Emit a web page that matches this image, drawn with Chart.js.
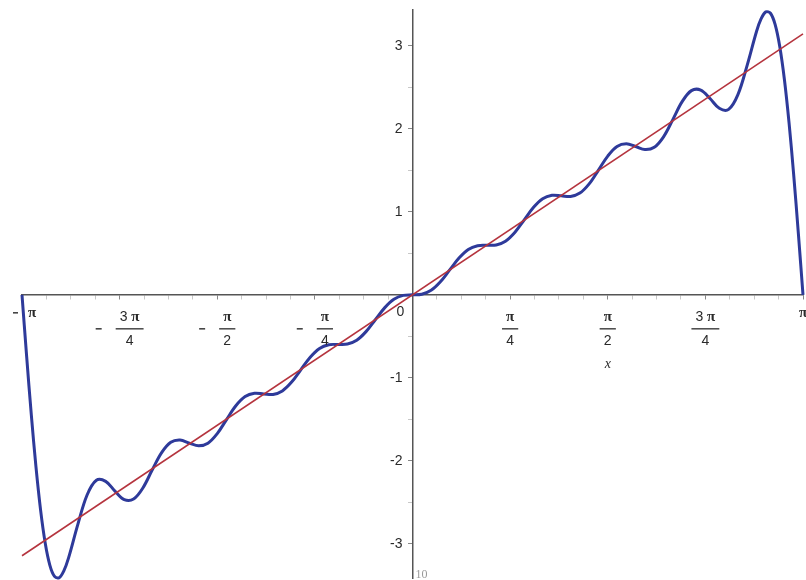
<!DOCTYPE html>
<html>
<head>
<meta charset="utf-8">
<script src="https://cdn.jsdelivr.net/npm/chart.js@4.4.1/dist/chart.umd.min.js"></script>
<style>
  html, body { margin: 0; padding: 0; background: #fff; }
  #plot { display: block; }
</style>
</head>
<body>
<canvas id="plot" width="806" height="580"></canvas>
<script>
// Fourier partial sum (10 terms) of f(x) = x
var xValues = [
  -3.1416, -3.1042, -3.0668, -3.0294, -2.9920, -2.9546, -2.9172, -2.8798, -2.8424, -2.8050,
  -2.7676, -2.6928, -2.6180, -2.5432, -2.4684, -2.3936, -2.3188, -2.2440, -2.1692, -2.0944,
  -2.0196, -1.9448, -1.8700, -1.7952, -1.7204, -1.6456, -1.5708, -1.4960, -1.4212, -1.3464,
  -1.2716, -1.1968, -1.1220, -1.0472, -0.9724, -0.8976, -0.8228, -0.7480, -0.6732, -0.5984,
  -0.5236, -0.4488, -0.3740, -0.2992, -0.2244, -0.1496, -0.0748,
  0,
  0.0748, 0.1496, 0.2244, 0.2992, 0.3740, 0.4488, 0.5236, 0.5984, 0.6732, 0.7480,
  0.8228, 0.8976, 0.9724, 1.0472, 1.1220, 1.1968, 1.2716, 1.3464, 1.4212, 1.4960,
  1.5708, 1.6456, 1.7204, 1.7952, 1.8700, 1.9448, 2.0196, 2.0944, 2.1692, 2.2440,
  2.3188, 2.3936, 2.4684, 2.5432, 2.6180, 2.6928, 2.7676, 2.8050, 2.8424, 2.8798,
  2.9172, 2.9546, 2.9920, 3.0294, 3.0668, 3.1042, 3.1416
];
var partialSum = [
  0, -0.741, -1.443, -2.070, -2.593, -2.991, -3.257, -3.391, -3.407, -3.325,
  -3.171, -2.767, -2.411, -2.233, -2.246, -2.364, -2.466, -2.459, -2.326, -2.110,
  -1.903, -1.776, -1.749, -1.786, -1.818, -1.786, -1.671, -1.502, -1.336, -1.225,
  -1.185, -1.193, -1.199, -1.157, -1.051, -0.900, -0.751, -0.646, -0.601, -0.597,
  -0.592, -0.547, -0.443, -0.300, -0.157, -0.054, -0.007,
  0,
  0.007, 0.054, 0.157, 0.300, 0.443, 0.547, 0.592, 0.597, 0.601, 0.646,
  0.751, 0.900, 1.051, 1.157, 1.199, 1.193, 1.185, 1.225, 1.336, 1.502,
  1.671, 1.786, 1.818, 1.786, 1.749, 1.776, 1.903, 2.110, 2.326, 2.459,
  2.466, 2.364, 2.246, 2.233, 2.411, 2.767, 3.171, 3.325, 3.407, 3.391,
  3.257, 2.991, 2.593, 2.070, 1.443, 0.741, 0
];

// the function itself, y = x
var lineX = [-Math.PI, Math.PI];
var lineY = [-Math.PI, Math.PI];

// axis ticks
var xTickValues = [-Math.PI, -3 * Math.PI / 4, -Math.PI / 2, -Math.PI / 4, 0,
                   Math.PI / 4, Math.PI / 2, 3 * Math.PI / 4, Math.PI];
var xTickSign = ['-', '-', '-', '-', '', '', '', '', ''];
var xTickNum  = ['π', '3 π', 'π', 'π', '0', 'π', 'π', '3 π', 'π'];
var xTickDen  = ['', '4', '2', '4', '', '4', '2', '4', ''];
var xMinorStep = Math.PI / 16;
var yTickValues = [-3, -2, -1, 1, 2, 3];
var yMinorStep = 0.5;
var xTitle = 'x';
var termCount = '10';

var sumPoints = xValues.map(function(v, i) { return {x: v, y: partialSum[i]}; });
var linePoints = lineX.map(function(v, i) { return {x: v, y: lineY[i]}; });

var SANS = "'Liberation Sans', Arial, sans-serif";
var SERIF = "'Liberation Serif', 'Times New Roman', serif";

// draw a string where π uses a serif face, digits a sans face
function charFont(c) {
    return c === 'π' ? 'bold 15px ' + SERIF : '14px ' + SANS;
}
function mixedWidth(ctx, str) {
    var w = 0;
    for (var i = 0; i < str.length; i++) {
        ctx.font = charFont(str[i]);
        w += ctx.measureText(str[i]).width;
    }
    return w;
}
function drawMixed(ctx, str, cx, cy) {
    var x = cx - mixedWidth(ctx, str) / 2;
    ctx.textAlign = 'left';
    ctx.textBaseline = 'middle';
    for (var i = 0; i < str.length; i++) {
        ctx.font = charFont(str[i]);
        ctx.fillText(str[i], x, cy);
        x += ctx.measureText(str[i]).width;
    }
}

var axisLabels = {
    id: 'axisLabels',
    afterDraw: function(chart) {
        var ctx = chart.ctx;
        var xs = chart.scales.x, ys = chart.scales.y;
        var x0 = xs.getPixelForValue(0);
        var y0 = ys.getPixelForValue(0);
        ctx.save();
        ctx.fillStyle = '#2a2a2a';
        ctx.strokeStyle = '#2a2a2a';

        // x tick labels
        for (var i = 0; i < xTickValues.length; i++) {
            var px = xs.getPixelForValue(xTickValues[i]);
            if (!xTickDen[i]) {
                if (xTickNum[i] === '0') {
                    drawMixed(ctx, '0', px - 12, y0 + 17);
                } else {
                    if (xTickSign[i]) {
                        ctx.lineWidth = 1.4;
                        ctx.beginPath();
                        ctx.moveTo(px - 9, y0 + 18);
                        ctx.lineTo(px - 4, y0 + 18);
                        ctx.stroke();
                        drawMixed(ctx, xTickNum[i], px + 10, y0 + 18);
                    } else {
                        drawMixed(ctx, xTickNum[i], px, y0 + 18);
                    }
                }
                continue;
            }
            var numW = mixedWidth(ctx, xTickNum[i]);
            var barW = numW + 8;
            var signW = xTickSign[i] ? 20 : 0;
            var left = px - (barW + signW) / 2;
            if (xTickSign[i]) {
                ctx.lineWidth = 1.4;
                ctx.beginPath();
                ctx.moveTo(left, y0 + 34);
                ctx.lineTo(left + 6, y0 + 34);
                ctx.stroke();
            }
            var fx = left + signW + barW / 2;
            drawMixed(ctx, xTickNum[i], fx, y0 + 22);
            ctx.lineWidth = 1.3;
            ctx.beginPath();
            ctx.moveTo(fx - barW / 2, y0 + 34);
            ctx.lineTo(fx + barW / 2, y0 + 34);
            ctx.stroke();
            drawMixed(ctx, xTickDen[i], fx, y0 + 46);
        }

        // y tick labels
        ctx.font = '14px ' + SANS;
        ctx.textAlign = 'right';
        ctx.textBaseline = 'middle';
        for (var j = 0; j < yTickValues.length; j++) {
            ctx.fillText(String(yTickValues[j]), x0 - 10, ys.getPixelForValue(yTickValues[j]));
        }

        // axis title
        ctx.font = 'italic 14px ' + SERIF;
        ctx.textAlign = 'center';
        ctx.fillText(xTitle, (x0 + chart.chartArea.right) / 2, y0 + 69);

        // number of terms
        ctx.fillStyle = '#999';
        ctx.font = '12px ' + SERIF;
        ctx.textAlign = 'left';
        ctx.fillText(termCount, x0 + 3, chart.chartArea.bottom - 3);
        ctx.restore();
    }
};

function minorTicks(lo, hi, step) {
    var out = [];
    for (var v = Math.ceil(lo / step) * step; v <= hi + 1e-9; v += step) out.push({value: v});
    return out;
}
function isMajor(v, list) {
    return list.some(function(t) { return Math.abs(t - v) < 1e-6; });
}

new Chart(document.getElementById('plot').getContext('2d'), {
    type: 'line',
    data: {
        datasets: [
            {
                label: 'x',
                data: linePoints,
                borderColor: '#b5343e',
                borderWidth: 1.6,
                pointRadius: 0,
                tension: 0,
                clip: 6
            },
            {
                label: 'S10',
                data: sumPoints,
                borderColor: '#2e3a9a',
                borderWidth: 3,
                pointRadius: 0,
                tension: 0.35,
                clip: 6
            }
        ]
    },
    options: {
        responsive: false,
        animation: false,
        layout: { padding: { left: 22, right: 3, top: 10, bottom: 2 } },
        plugins: {
            legend: { display: false },
            tooltip: { enabled: false }
        },
        scales: {
            x: {
                type: 'linear',
                min: -Math.PI,
                max: Math.PI,
                position: { y: 0 },
                afterBuildTicks: function(s) {
                    s.ticks = minorTicks(-Math.PI, Math.PI, xMinorStep);
                },
                ticks: { display: false },
                grid: {
                    drawOnChartArea: false,
                    drawTicks: true,
                    tickLength: 4,
                    color: function(c) {
                        return isMajor(c.tick.value, xTickValues) ? '#888' : '#c8c8c8';
                    }
                },
                border: { display: true, color: '#555', width: 1.5 }
            },
            y: {
                type: 'linear',
                min: -3.41,
                max: 3.43,
                position: { x: 0 },
                afterBuildTicks: function(s) {
                    s.ticks = minorTicks(-3.41, 3.43, yMinorStep);
                },
                ticks: { display: false },
                grid: {
                    drawOnChartArea: false,
                    drawTicks: true,
                    tickLength: 4,
                    color: function(c) {
                        return isMajor(c.tick.value, yTickValues) ? '#888' : '#c8c8c8';
                    }
                },
                border: { display: true, color: '#555', width: 1.5 }
            }
        }
    },
    plugins: [axisLabels]
});
</script>
</body>
</html>
